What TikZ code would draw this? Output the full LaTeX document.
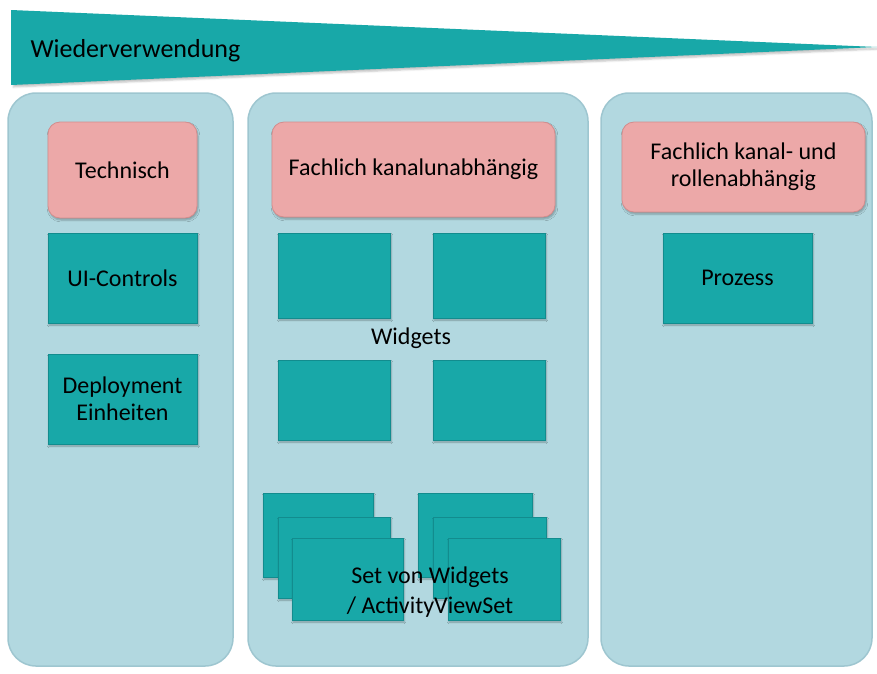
\documentclass[tikz,border=0pt]{standalone}
\usepackage{fontspec}
\setmainfont{Carlito}
\usetikzlibrary{shadows.blur}

\definecolor{teal1}{RGB}{24,168,168}
\definecolor{tealdark}{RGB}{18,140,142}
\definecolor{lightcol}{RGB}{178,216,224}
\definecolor{lightline}{RGB}{158,198,208}
\definecolor{rose}{RGB}{236,168,168}
\definecolor{rosedark}{RGB}{212,140,140}

\tikzset{
  column/.style={fill=lightcol, draw=lightline, line width=1.5pt, rounded corners=28pt},
  pinkbox/.style={fill=rose, draw=rosedark, line width=0.8pt, rounded corners=12pt,
    align=center, inner sep=0pt,
    blur shadow={shadow xshift=1pt, shadow yshift=-2pt, shadow blur steps=4, shadow opacity=30}},
  tealbox/.style={fill=teal1, draw=tealdark, line width=0.6pt, align=center, inner sep=0pt,
    blur shadow={shadow xshift=1pt, shadow yshift=-2pt, shadow blur steps=4, shadow opacity=30}},
  lbl/.style={align=center}
}

\begin{document}
\begin{tikzpicture}[x=1pt, y=-1pt, font=\fontsize{24}{27}\selectfont]
\useasboundingbox (0,0) rectangle (877,673);

% banner
\fill[teal1, blur shadow={shadow yshift=-2pt, shadow opacity=25}] (11,10) -- (877,47) -- (11,85) -- cycle;
\node[anchor=west, font=\fontsize{26}{31}\selectfont] (reuse) at (27,51) {Wiederverwendung};

% the three columns
\draw[column] (8,93) rectangle (233,666);
\draw[column] (248,93) rectangle (588,666);
\draw[column] (601,93) rectangle (872,666);

% left column
\node[pinkbox, minimum width=149pt, minimum height=96pt] (tech) at (122.5,170) {Technisch};
\node[tealbox, minimum width=149pt, minimum height=90pt] (ui) at (122.5,278) {UI-Controls};
\node[tealbox, minimum width=149pt, minimum height=90pt] (deploy) at (122.5,399) {Deployment\\Einheiten};

% middle column
\node[pinkbox, minimum width=283pt, minimum height=95pt] (fach) at (413.5,169.5) {Fachlich kanalunabh\"angig};
\node[tealbox, minimum width=112pt, minimum height=85pt] (w1) at (334,275.5) {};
\node[tealbox, minimum width=112pt, minimum height=85pt] (w2) at (489,275.5) {};
\node[tealbox, minimum width=112pt, minimum height=80pt] (w3) at (334,400) {};
\node[tealbox, minimum width=112pt, minimum height=80pt] (w4) at (489,400) {};
\node[lbl] (widgets) at (411,338) {Widgets};

\node[tealbox, minimum width=110pt, minimum height=84pt] (sa1) at (318,535) {};
\node[tealbox, minimum width=112pt, minimum height=81pt] (sa2) at (334,557.5) {};
\node[tealbox, minimum width=111pt, minimum height=82pt] (sa3) at (347.5,579) {};
\node[tealbox, minimum width=114pt, minimum height=84pt] (sb1) at (475,535) {};
\node[tealbox, minimum width=113pt, minimum height=81pt] (sb2) at (489.5,557.5) {};
\node[tealbox, minimum width=112pt, minimum height=82pt] (sb3) at (504,579) {};
\node[lbl, font=\fontsize{24}{30}\selectfont] (sets) at (430,592) {Set von Widgets\\/ ActivityViewSet};

% right column
\node[pinkbox, minimum width=243pt, minimum height=90pt] (fach2) at (743.5,167) {Fachlich kanal- und\\rollenabh\"angig};
\node[tealbox, minimum width=149pt, minimum height=90pt] (proz) at (737.5,278) {Prozess};

\end{tikzpicture}
\end{document}
